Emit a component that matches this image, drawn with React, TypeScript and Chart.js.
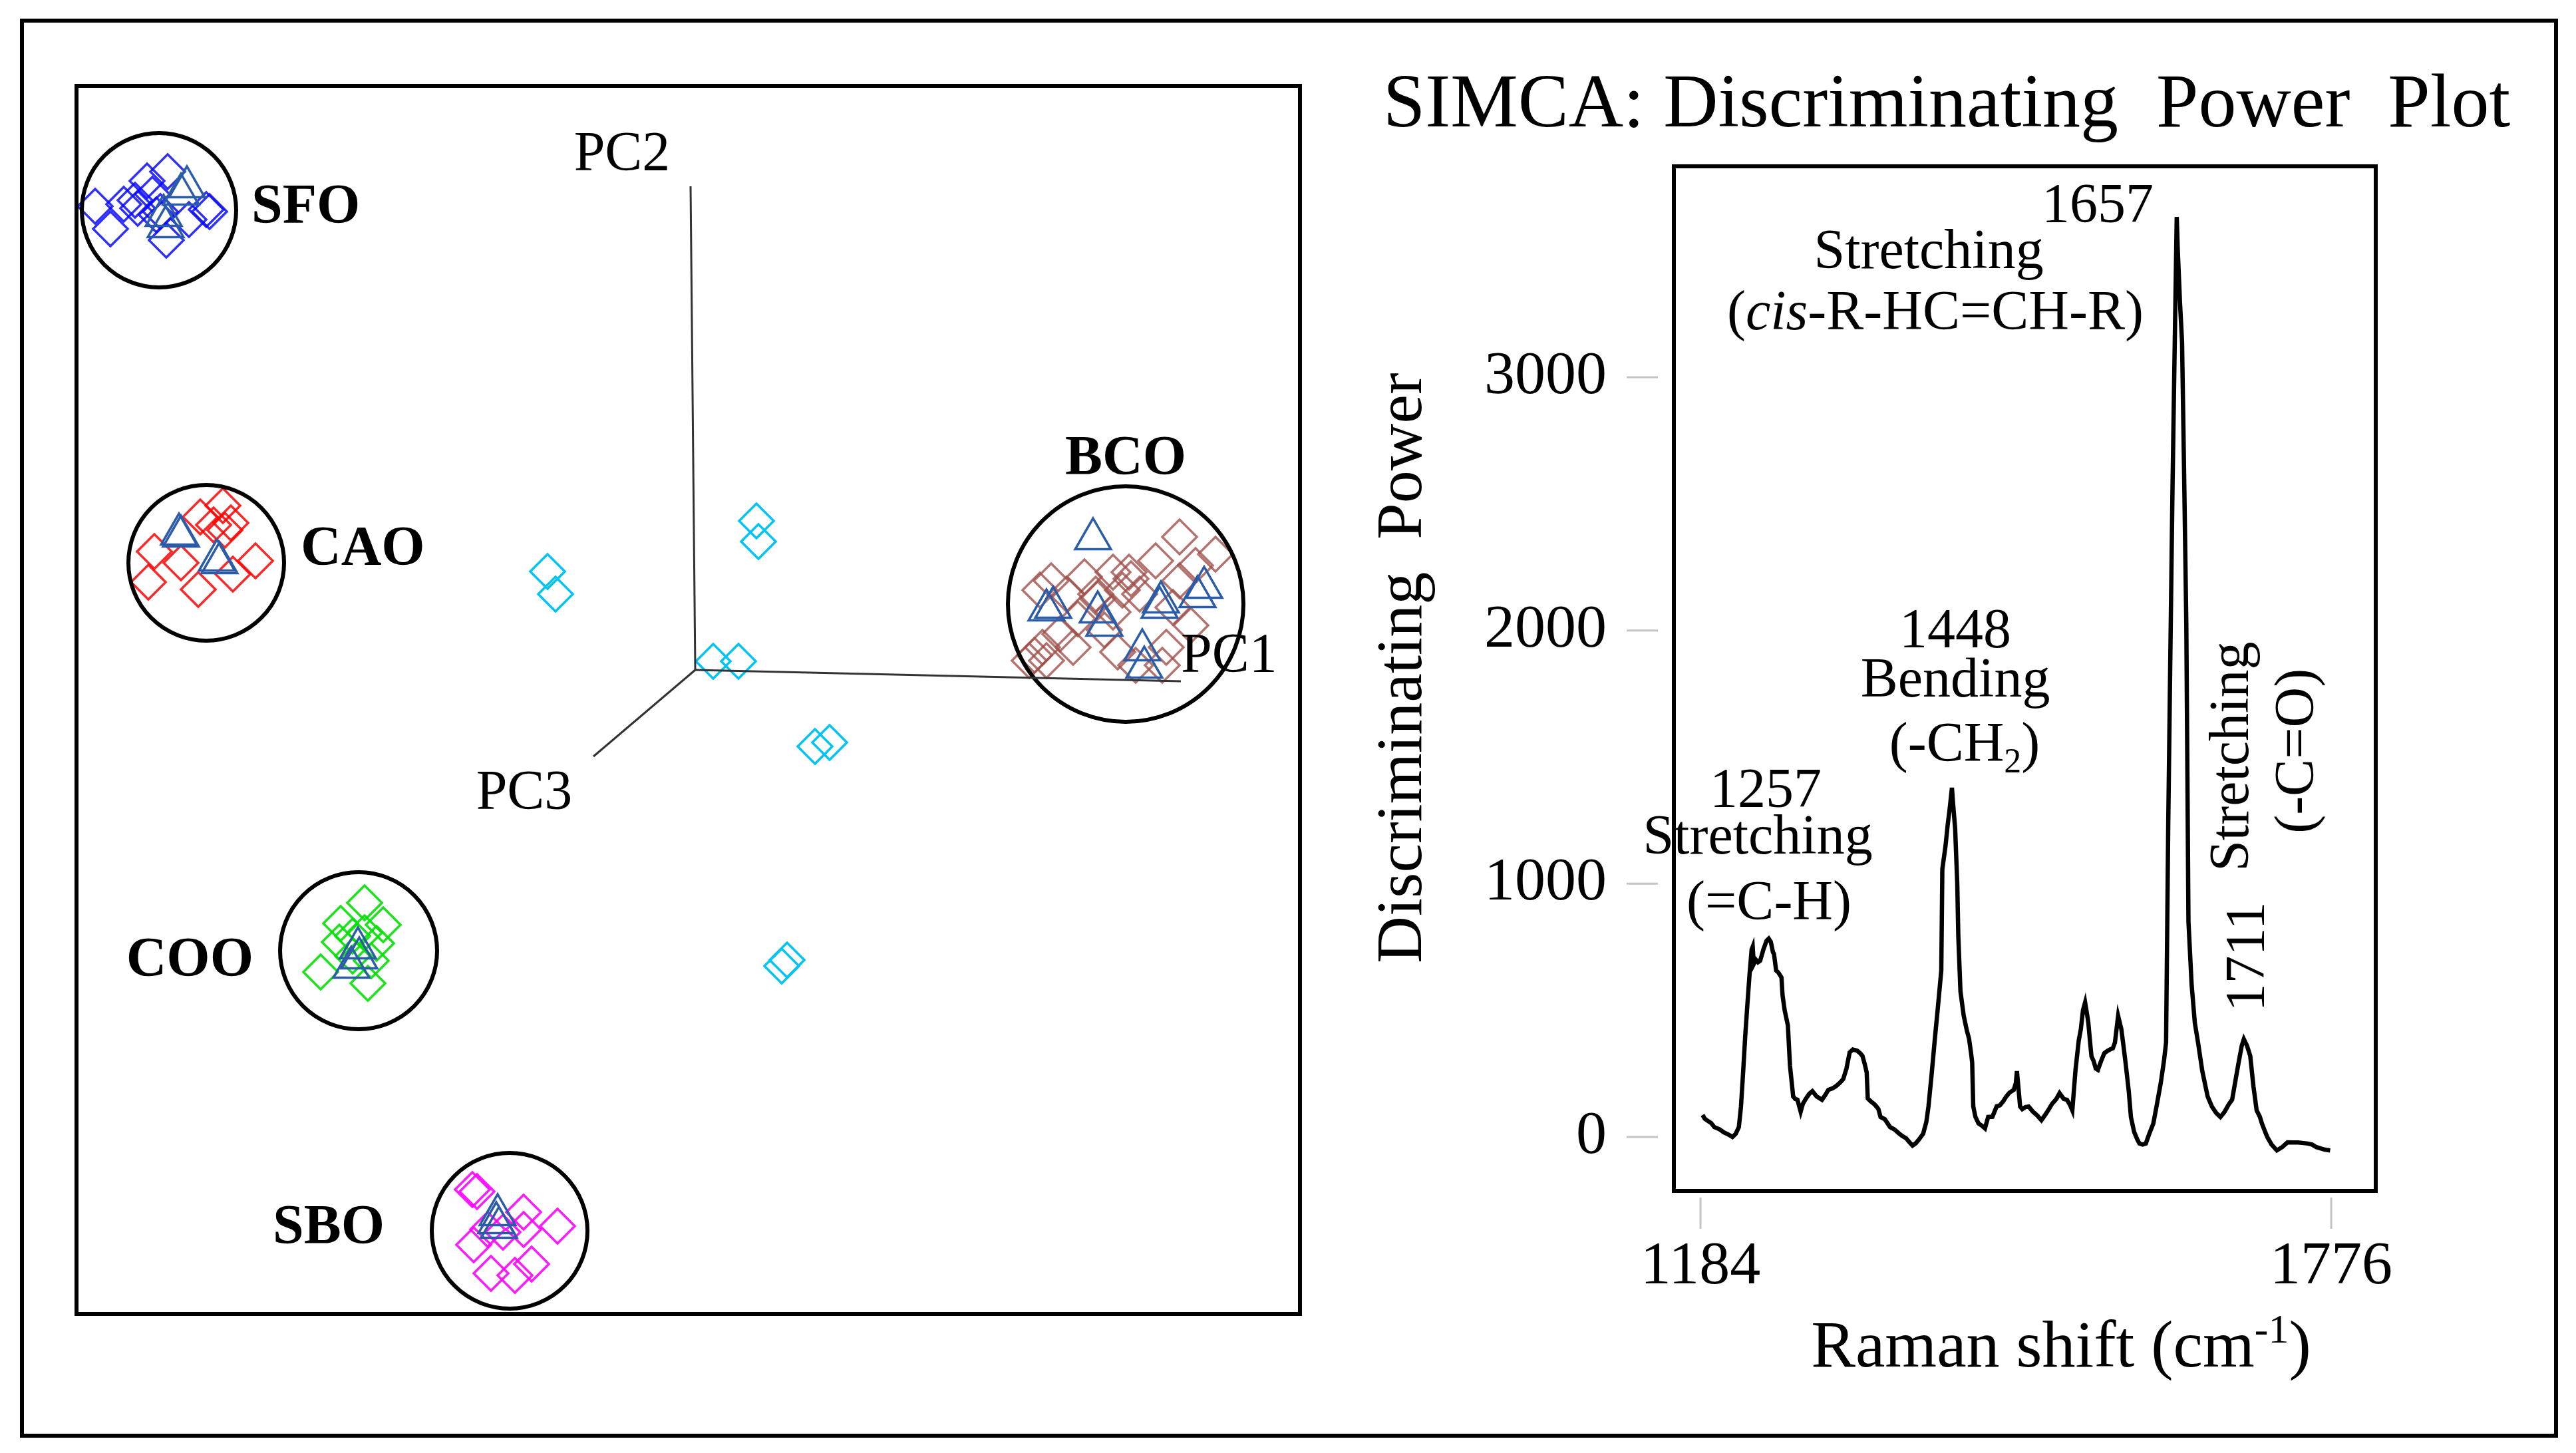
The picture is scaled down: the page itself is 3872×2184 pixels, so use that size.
import React, { useEffect, useRef } from "react";
import { Chart, registerables } from "chart.js";

Chart.register(...registerables);

const SERIF = '"Liberation Serif", "Times New Roman", Times, serif';

// ================= Right panel: SIMCA discriminating power =================
const ramanShift = [
  1186, 1188, 1190, 1194, 1197, 1202, 1206, 1210, 1214, 1217, 1220, 1222, 1224, 1226, 1228, 1230,
  1232, 1233, 1234, 1236, 1238, 1240, 1243, 1246, 1248, 1250, 1252, 1253, 1255, 1257, 1260, 1261,
  1263, 1266, 1268, 1270, 1271, 1273, 1275, 1278, 1280, 1283, 1286, 1289, 1293, 1298, 1301, 1304,
  1308, 1311, 1315, 1318, 1321, 1324, 1327, 1331, 1334, 1336, 1338, 1340, 1341, 1344, 1347, 1349,
  1351, 1353, 1357, 1362, 1366, 1370, 1373, 1377, 1380, 1383, 1386, 1389, 1393, 1396, 1398, 1401,
  1404, 1407, 1410, 1411, 1414, 1416, 1418, 1420, 1421, 1423, 1425, 1426, 1428, 1431, 1434, 1436,
  1438, 1439, 1440, 1442, 1445, 1448, 1451, 1454, 1458, 1462, 1465, 1468, 1471, 1474, 1478, 1480,
  1481, 1484, 1486, 1489, 1492, 1496, 1500, 1504, 1508, 1511, 1514, 1518, 1521, 1525, 1528, 1531,
  1533, 1536, 1539, 1541, 1543, 1545, 1547, 1548, 1550, 1551, 1553, 1555, 1557, 1560, 1563, 1566,
  1569, 1571, 1573, 1576, 1579, 1581, 1583, 1586, 1588, 1591, 1594, 1596, 1599, 1602, 1605, 1609,
  1612, 1616, 1619, 1621, 1623, 1625, 1627, 1629, 1631, 1632, 1634, 1636, 1638, 1640, 1642, 1645,
  1648, 1651, 1655, 1660, 1664, 1668, 1672, 1676, 1680, 1683, 1686, 1689, 1692, 1694, 1697, 1700,
  1703, 1706, 1709, 1711, 1714, 1716, 1720, 1725, 1730, 1735, 1740, 1745, 1750, 1754, 1758, 1762,
  1766, 1770, 1775,
];
const discriminatingPower = [
  87, 72, 66, 55, 39, 30, 18, 10, 0, 12, 39, 120, 255, 400, 523, 640,
  740, 751, 683, 700, 690, 696, 740, 775, 783, 770, 730, 722, 657, 650, 630, 560,
  500, 441, 281, 200, 160, 150, 147, 100, 130, 152, 170, 181, 160, 147, 165, 186,
  192, 200, 215, 229, 270, 334, 345, 341, 330, 320, 290, 255, 152, 140, 130, 121,
  110, 79, 70, 39, 30, 15, 5, -5, -20, -34, -25, -10, 13, 60, 121, 250,
  389, 520, 657, 1058, 1150, 1232, 1300, 1379, 1320, 1219, 1000, 791, 575, 480, 420, 389,
  330, 294, 121, 80, 53, 45, 34, 79, 80, 121, 125, 140, 160, 175, 186, 213,
  260, 120, 110, 118, 120, 100, 85, 66, 90, 110, 131, 150, 173, 150, 147, 125,
  105, 265, 380, 426, 500, 531, 480, 452, 360, 318, 300, 270, 265, 300, 331, 340,
  347, 350, 373, 478, 426, 360, 292, 180, 79, 20, -10, -26, -30, -26, 10, 53,
  120, 213, 300, 373, 1224, 1900, 2553, 3100, 3633, 3500, 3300, 3139, 2600, 2023, 851, 600,
  450, 373, 260, 160, 120, 95, 79, 100, 130, 147, 220, 292, 360, 386, 360, 320,
  200, 105, 80, 53, 20, 0, -30, -53, -40, -21, -22, -22, -24, -26, -30, -40,
  -45, -50, -53,
];
const xTickValues = [1184, 1776];
const yTickValues = [0, 1000, 2000, 3000];
const xAxisMin = 1159;
const xAxisMax = 1817.8;
const yAxisMin = -212.8;
const yAxisMax = 3832.7;

const annotationText = [
  "1657", "Stretching", "(_cis_-R-HC=CH-R)",
  "1448", "Bending", "(-CH~2~)",
  "1257", "Stretching", "(=C-H)",
  "Stretching", "(-C=O)", "1711",
];
const annotationShift = [1556.8, 1398.2, 1404.4, 1423.2, 1423.2, 1431.9, 1245.2, 1237.7, 1248.3, 1684.1, 1745.4, 1699.2];
const annotationPower = [3612, 3431, 3189, 1933, 1739, 1484, 1303, 1119, 859, 1502, 1524, 712];
const annotationVertical = [false, false, false, false, false, false, false, false, false, true, true, true];

const plotTitle = "SIMCA: Discriminating  Power  Plot";
const yAxisTitle = "Discriminating  Power";
const xAxisTitle = "Raman shift (cm^-1^)";

// ================= Left panel: 3D PCA score plot (projected units) =================
const panelUMin = -9.33;
const panelUMax = 9.12;
const panelVMin = -9.71;
const panelVMax = 8.81;

const clusterNames = ["SFO", "CAO", "COO", "SBO", "BCO"];
const clusterCenterU = [-8.06, -7.35, -5.06, -2.79, 6.47];
const clusterCenterV = [6.91, 1.61, -4.22, -8.43, 0.99];
const clusterRadius = [1.16, 1.17, 1.18, 1.17, 1.77];
const clusterLabelU = [-6.67, -5.93, -6.64, -4.67, 6.47];
const clusterLabelV = [6.72, 1.58, -4.6, -8.62, 2.94];

const sfoDiamonds: [number, number][] = [
  [-9.02, 6.97], [-8.79, 6.63], [-8.59, 7.0], [-8.24, 7.35], [-8.16, 7.15], [-7.93, 7.49], [-8.04, 6.89],
  [-7.95, 6.46], [-7.61, 6.77], [-7.35, 6.92], [-7.3, 6.89], [-8.42, 7.06], [-8.38, 6.94], [-8.1, 6.84],
];
const sfoTriangles: [number, number][] = [[-7.64, 7.26], [-7.73, 7.15], [-7.99, 6.83], [-7.96, 6.66]];
const caoDiamonds: [number, number][] = [
  [-8.13, 1.78], [-8.22, 1.32], [-7.73, 1.61], [-7.47, 1.21], [-7.44, 2.3], [-7.1, 2.47],
  [-7.07, 2.1], [-6.98, 2.21], [-6.95, 1.44], [-6.61, 1.64], [-7.24, 2.18],
];
const caoTriangles: [number, number][] = [[-7.76, 2.04], [-7.73, 2.01], [-7.15, 1.61], [-7.19, 1.65]];
const cooDiamonds: [number, number][] = [
  [-4.97, -3.5], [-5.33, -3.81], [-4.69, -3.83], [-5.15, -4.0], [-4.97, -3.95], [-5.35, -4.09],
  [-4.79, -4.11], [-5.63, -4.54], [-4.92, -4.71], [-4.87, -4.37], [-5.15, -4.3],
];
const cooTriangles: [number, number][] = [[-5.07, -4.18], [-5.05, -4.33], [-5.17, -4.47]];
const sboDiamonds: [number, number][] = [
  [-3.35, -7.81], [-3.28, -7.84], [-2.58, -8.15], [-2.07, -8.36], [-3.33, -8.64], [-3.07, -9.07],
  [-2.71, -9.1], [-2.46, -8.93], [-2.89, -8.45], [-2.58, -8.41], [-3.12, -8.41],
];
const sboTriangles: [number, number][] = [[-2.97, -8.19], [-2.99, -8.31], [-2.95, -8.38]];
const bcoDiamonds: [number, number][] = [
  [7.28, 2.0], [7.82, 1.74], [6.92, 1.64], [6.52, 1.47], [6.28, 1.47], [5.85, 1.4], [5.35, 1.34],
  [5.18, 1.2], [5.58, 1.14], [6.02, 1.14], [6.42, 1.2], [6.68, 1.14], [7.28, 1.34], [7.52, 1.57],
  [7.18, 0.94], [7.45, 0.67], [6.28, 0.87], [5.75, 0.77], [5.48, 0.54], [5.22, 0.34], [5.02, 0.14],
  [5.28, 0.14], [5.68, 0.34], [6.35, 0.27], [6.62, 0.07], [7.08, 0.34], [7.02, 0.07], [6.15, 0.6],
  [6.55, 1.37], [6.05, 1.07], [5.1, 0.22],
];
const bcoTriangles: [number, number][] = [
  [5.98, 1.97], [5.28, 0.9], [5.38, 0.94], [6.05, 0.87], [6.15, 0.67], [6.98, 0.94],
  [7.0, 1.02], [7.65, 1.24], [7.55, 1.1], [6.72, 0.3], [6.75, 0.04],
];
const otherDiamonds: [number, number][] = [
  [-2.22, 1.48], [-2.1, 1.14], [0.92, 2.24], [0.95, 1.93], [0.27, 0.13],
  [0.65, 0.13], [1.8, -1.15], [2.02, -1.09], [1.3, -4.45], [1.38, -4.36],
];

const pcAxisNames = ["PC1", "PC2", "PC3"];
const pcAxisEndU = [7.3, -0.07, -1.53];
const pcAxisEndV = [-0.17, 7.27, -1.3];
const pcLabelU = [7.3, -1.1, -2.57];
const pcLabelV = [-0.03, 7.51, -2.09];

// ================= helpers =================
type Seg = { t: string; it?: boolean; sub?: boolean; sup?: boolean };
function parseRich(s: string): Seg[] {
  const segs: Seg[] = [];
  const re = /_([^_]+)_|~([^~]+)~|\^([^\^]+)\^|([^_~\^]+)/g;
  let m: RegExpExecArray | null;
  while ((m = re.exec(s))) {
    if (m[1]) segs.push({ t: m[1], it: true });
    else if (m[2]) segs.push({ t: m[2], sub: true });
    else if (m[3]) segs.push({ t: m[3], sup: true });
    else segs.push({ t: m[4] });
  }
  return segs;
}
function drawRich(
  ctx: CanvasRenderingContext2D,
  s: string,
  x: number,
  y: number,
  size: number,
  align: "left" | "center" | "right",
  baseline: CanvasTextBaseline,
  weight = ""
) {
  const segs = parseRich(s);
  const fontFor = (g: Seg) =>
    `${g.it ? "italic " : ""}${weight ? weight + " " : ""}${g.sub || g.sup ? Math.round(size * 0.62) : size}px ${SERIF}`;
  let total = 0;
  for (const g of segs) {
    ctx.font = fontFor(g);
    total += ctx.measureText(g.t).width;
  }
  let cx = align === "center" ? x - total / 2 : align === "right" ? x - total : x;
  ctx.textAlign = "left";
  ctx.textBaseline = baseline;
  for (const g of segs) {
    ctx.font = fontFor(g);
    const dy = g.sub ? size * 0.2 : g.sup ? -size * 0.36 : 0;
    ctx.fillText(g.t, cx, y + dy);
    cx += ctx.measureText(g.t).width;
  }
}
const pts = (arr: [number, number][]) => arr.map(([x, y]) => ({ x, y }));

export default function App() {
  const leftRef = useRef<HTMLCanvasElement>(null);
  const rightRef = useRef<HTMLCanvasElement>(null);

  useEffect(() => {
    // ---------- left: PCA 3D score plot ----------
    const triColor = "#2b5ca8";
    const diamondStyle = (color: string) => ({
      pointStyle: "rectRot" as const,
      pointRadius: 26,
      pointBorderWidth: 3.5,
      pointBorderColor: color,
      pointBackgroundColor: "rgba(0,0,0,0)",
      showLine: false,
    });
    const triStyle = {
      pointStyle: "triangle" as const,
      pointRadius: 31,
      pointBorderWidth: 3.5,
      pointBorderColor: triColor,
      pointBackgroundColor: "rgba(0,0,0,0)",
      showLine: false,
    };
    const axisLines = pcAxisNames.map((n, i) => ({
      label: n,
      data: [{ x: 0, y: 0 }, { x: pcAxisEndU[i], y: pcAxisEndV[i] }],
      showLine: true,
      borderColor: "#333",
      borderWidth: 3,
      pointRadius: 0,
    }));

    const leftDecor = {
      id: "leftDecor",
      afterDraw(chart: any) {
        const { ctx, width, height, scales } = chart;
        const xs = scales.x;
        const ys = scales.y;
        ctx.save();
        ctx.strokeStyle = "#000";
        ctx.lineWidth = 6;
        ctx.strokeRect(3, 3, width - 6, height - 6);
        ctx.fillStyle = "#000";
        const clusterAlign: CanvasTextAlign[] = ["left", "left", "right", "right", "center"];
        ctx.font = `bold 84px ${SERIF}`;
        ctx.textBaseline = "alphabetic";
        clusterNames.forEach((n, i) => {
          ctx.textAlign = clusterAlign[i];
          ctx.fillText(n, xs.getPixelForValue(clusterLabelU[i]), ys.getPixelForValue(clusterLabelV[i]));
        });
        const pcAlign: CanvasTextAlign[] = ["left", "center", "center"];
        ctx.font = `84px ${SERIF}`;
        pcAxisNames.forEach((n, i) => {
          ctx.textAlign = pcAlign[i];
          ctx.fillText(n, xs.getPixelForValue(pcLabelU[i]), ys.getPixelForValue(pcLabelV[i]));
        });
        ctx.restore();
      },
    };

    const left = new Chart(leftRef.current!, {
      type: "scatter",
      data: {
        datasets: [
          ...axisLines,
          {
            label: "circles",
            data: clusterCenterU.map((u, i) => ({ x: u, y: clusterCenterV[i] })),
            pointStyle: "circle",
            pointRadius: (c: any) => {
              const s = c.chart.scales.x;
              return Math.abs(s.getPixelForValue(clusterRadius[c.dataIndex]) - s.getPixelForValue(0));
            },
            pointBorderWidth: 6,
            pointBorderColor: "#000",
            pointBackgroundColor: "rgba(0,0,0,0)",
            showLine: false,
          },
          { label: "SFO-t", data: pts(sfoTriangles), ...triStyle },
          { label: "CAO-t", data: pts(caoTriangles), ...triStyle },
          { label: "COO-t", data: pts(cooTriangles), ...triStyle },
          { label: "SBO-t", data: pts(sboTriangles), ...triStyle },
          { label: "BCO-t", data: pts(bcoTriangles), ...triStyle },
          { label: "SFO", data: pts(sfoDiamonds), ...diamondStyle("rgba(10,10,255,0.85)") },
          { label: "CAO", data: pts(caoDiamonds), ...diamondStyle("rgba(255,0,0,0.85)") },
          { label: "COO", data: pts(cooDiamonds), ...diamondStyle("rgba(0,225,0,0.9)") },
          { label: "SBO", data: pts(sboDiamonds), ...diamondStyle("rgba(255,0,255,0.9)") },
          { label: "BCO", data: pts(bcoDiamonds), ...diamondStyle("rgba(160,80,75,0.8)") },
          { label: "other", data: pts(otherDiamonds), ...diamondStyle("#00c4f5") },
        ] as any,
      },
      options: {
        responsive: false,
        animation: false,
        events: [],
        layout: { padding: 0, autoPadding: false },
        plugins: { legend: { display: false }, tooltip: { enabled: false } },
        scales: {
          x: { type: "linear", min: panelUMin, max: panelUMax, display: false },
          y: { type: "linear", min: panelVMin, max: panelVMax, display: false },
        },
      },
      plugins: [leftDecor],
    });

    // ---------- right: discriminating power ----------
    const rightDecor = {
      id: "rightDecor",
      afterDraw(chart: any) {
        const { ctx, chartArea: a, scales } = chart;
        const xs = scales.x;
        const ys = scales.y;
        ctx.save();
        // plot box
        ctx.strokeStyle = "#000";
        ctx.lineWidth = 6;
        ctx.strokeRect(a.left, a.top, a.right - a.left, a.bottom - a.top);
        // detached tick marks
        ctx.strokeStyle = "#c4c4c4";
        ctx.lineWidth = 3;
        ctx.beginPath();
        for (const v of yTickValues) {
          const p = ys.getPixelForValue(v);
          ctx.moveTo(a.left - 71, p);
          ctx.lineTo(a.left - 24, p);
        }
        for (const v of xTickValues) {
          const p = xs.getPixelForValue(v);
          ctx.moveTo(p, a.bottom + 10);
          ctx.lineTo(p, a.bottom + 57);
        }
        ctx.stroke();
        // annotations
        ctx.fillStyle = "#000";
        annotationText.forEach((t, i) => {
          const px = xs.getPixelForValue(annotationShift[i]);
          const py = ys.getPixelForValue(annotationPower[i]);
          if (annotationVertical[i]) {
            ctx.save();
            ctx.translate(px, py);
            ctx.rotate(-Math.PI / 2);
            drawRich(ctx, t, 0, 0, 84, "center", "middle");
            ctx.restore();
          } else {
            drawRich(ctx, t, px, py, 84, "center", "alphabetic");
          }
        });
        // titles
        drawRich(ctx, plotTitle, 936, 150, 114, "center", "alphabetic");
        drawRich(ctx, xAxisTitle, 1108, 2014, 100, "center", "alphabetic");
        ctx.save();
        ctx.translate(146, 964);
        ctx.rotate(-Math.PI / 2);
        drawRich(ctx, yAxisTitle, 0, 0, 98, "center", "alphabetic");
        ctx.restore();
        ctx.restore();
      },
    };

    const right = new Chart(rightRef.current!, {
      type: "line",
      data: {
        datasets: [
          {
            label: "Discriminating Power",
            data: ramanShift.map((x, i) => ({ x, y: discriminatingPower[i] })),
            borderColor: "#000",
            borderWidth: 6.5,
            pointRadius: 0,
            tension: 0,
            fill: false,
          },
        ],
      },
      options: {
        responsive: false,
        animation: false,
        events: [],
        layout: { padding: { left: 0, top: 210, right: 249, bottom: 0 }, autoPadding: false },
        plugins: { legend: { display: false }, tooltip: { enabled: false } },
        scales: {
          x: {
            type: "linear",
            min: xAxisMin,
            max: xAxisMax,
            grid: { display: false, drawTicks: false },
            border: { display: false },
            afterBuildTicks: (s: any) => {
              s.ticks = xTickValues.map((value) => ({ value }));
            },
            afterFit: (s: any) => {
              s.height = 350;
            },
            ticks: {
              autoSkip: false,
              maxRotation: 0,
              padding: 60,
              color: "#000",
              font: { family: SERIF, size: 92 },
              callback: (v: any) => String(v),
            },
          },
          y: {
            type: "linear",
            min: yAxisMin,
            max: yAxisMax,
            grid: { display: false, drawTicks: false },
            border: { display: false },
            afterBuildTicks: (s: any) => {
              s.ticks = yTickValues.map((value) => ({ value }));
            },
            afterFit: (s: any) => {
              s.width = 526;
            },
            ticks: {
              autoSkip: false,
              padding: 101,
              color: "#000",
              font: { family: SERIF, size: 92 },
              callback: (v: any) => String(v),
            },
          },
        },
      },
      plugins: [rightDecor],
    });

    return () => {
      left.destroy();
      right.destroy();
    };
  }, []);

  return (
    <div
      style={{
        position: "absolute",
        left: 0,
        top: 0,
        width: 3872,
        height: 2184,
        background: "#fff",
        overflow: "hidden",
      }}
    >
      <div
        style={{
          position: "absolute",
          left: 30,
          top: 28,
          width: 3815,
          height: 2133,
          border: "6px solid #000",
          boxSizing: "border-box",
        }}
      />
      <canvas
        ref={leftRef}
        width={1845}
        height={1852}
        style={{ position: "absolute", left: 112, top: 126, width: 1845, height: 1852 }}
      />
      <canvas
        ref={rightRef}
        width={1830}
        height={2100}
        style={{ position: "absolute", left: 1990, top: 40, width: 1830, height: 2100 }}
      />
    </div>
  );
}
